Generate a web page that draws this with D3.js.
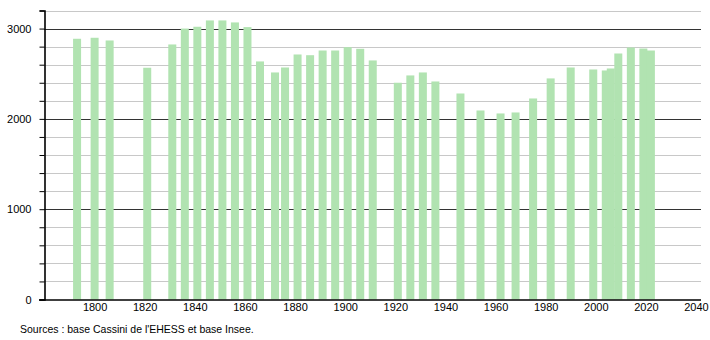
<!DOCTYPE html>
<html>
<head>
<meta charset="utf-8">
<script src="https://cdn.jsdelivr.net/npm/d3@7"></script>
<style>
  html, body { margin: 0; padding: 0; background: #fff; }
  svg { display: block; font-family: "Liberation Sans", Arial, sans-serif; }
</style>
</head>
<body>
<svg id="chart" width="710" height="340"></svg>
<script>
const years = [1793, 1800, 1806, 1821, 1831, 1836, 1841, 1846, 1851, 1856, 1861, 1866, 1872, 1876, 1881, 1886, 1891, 1896, 1901, 1906, 1911, 1921, 1926, 1931, 1936, 1946, 1954, 1962, 1968, 1975, 1982, 1990, 1999, 2004, 2006, 2009, 2014, 2019, 2022];
const population = [2887, 2898, 2868, 2566, 2824, 3000, 3020, 3090, 3090, 3068, 3016, 2636, 2514, 2569, 2713, 2705, 2757, 2757, 2794, 2776, 2647, 2400, 2481, 2514, 2414, 2281, 2093, 2060, 2071, 2226, 2448, 2569, 2547, 2536, 2558, 2724, 2790, 2779, 2757];
const xTicks = [1800, 1820, 1840, 1860, 1880, 1900, 1920, 1940, 1960, 1980, 2000, 2020, 2040];
const yMajorTicks = [0, 1000, 2000, 3000];
const yMinorTicks = d3.range(0, 3201, 200);
const sourceText = "Sources : base Cassini de l'EHESS et base Insee.";

const svg = d3.select("#chart");
const x = d3.scaleLinear().domain([1780, 2042]).range([44.5, 701]);
const y = d3.scaleLinear().domain([0, 3200]).range([299.5, 10.5]);

// minor gridlines
svg.append("g").selectAll("line").data(yMinorTicks.filter(v => v % 1000 !== 0)).join("line")
  .attr("x1", 44).attr("x2", 701)
  .attr("y1", d => Math.round(y(d)) + 0.5).attr("y2", d => Math.round(y(d)) + 0.5)
  .attr("stroke", "#c8c8c8").attr("stroke-width", 1);

// major gridlines
svg.append("g").selectAll("line").data(yMajorTicks.filter(v => v > 0)).join("line")
  .attr("x1", 44).attr("x2", 701)
  .attr("y1", d => Math.round(y(d)) + 0.5).attr("y2", d => Math.round(y(d)) + 0.5)
  .attr("stroke", "#333").attr("stroke-width", 1);

// bars (drawn over the gridlines)
const barW = 8;
svg.append("g").selectAll("rect").data(years.map((yr, i) => ({yr, v: population[i]}))).join("rect")
  .attr("x", d => x(d.yr) - barW / 2)
  .attr("width", barW)
  .attr("y", d => y(d.v))
  .attr("height", d => y(0) - y(d.v))
  .attr("fill", "#b1e3b1");

// y axis
const yAxis = d3.axisLeft(y).tickValues(yMinorTicks).tickSize(5)
  .tickFormat(d => yMajorTicks.includes(d) ? d : "");
const gy = svg.append("g").attr("transform", "translate(44.5,0)").call(yAxis);
gy.select(".domain").attr("stroke", "#000").attr("stroke-width", 1.6);
gy.selectAll(".tick line").attr("stroke", "#000");
gy.selectAll(".tick text").attr("font-size", 11).attr("fill", "#000")
  .attr("font-family", "'Liberation Sans', Arial, sans-serif").attr("x", -13);

// x axis
const xAxis = d3.axisBottom(x).tickValues(xTicks).tickSize(0).tickFormat(d3.format("d"));
const gx = svg.append("g").attr("transform", "translate(0,300)").call(xAxis);
gx.select(".domain").attr("stroke", "none");
gx.selectAll(".tick text").attr("font-size", 11).attr("fill", "#000")
  .attr("font-family", "'Liberation Sans', Arial, sans-serif").attr("dy", "0.95em").attr("y", 1);
svg.append("line").attr("x1", 39).attr("x2", 701).attr("y1", 300).attr("y2", 300)
  .attr("stroke", "#000").attr("stroke-width", 1.6);

// source
svg.append("text").attr("x", 20).attr("y", 333).attr("font-size", 10.5)
  .attr("fill", "#000").text(sourceText);
</script>
</body>
</html>
